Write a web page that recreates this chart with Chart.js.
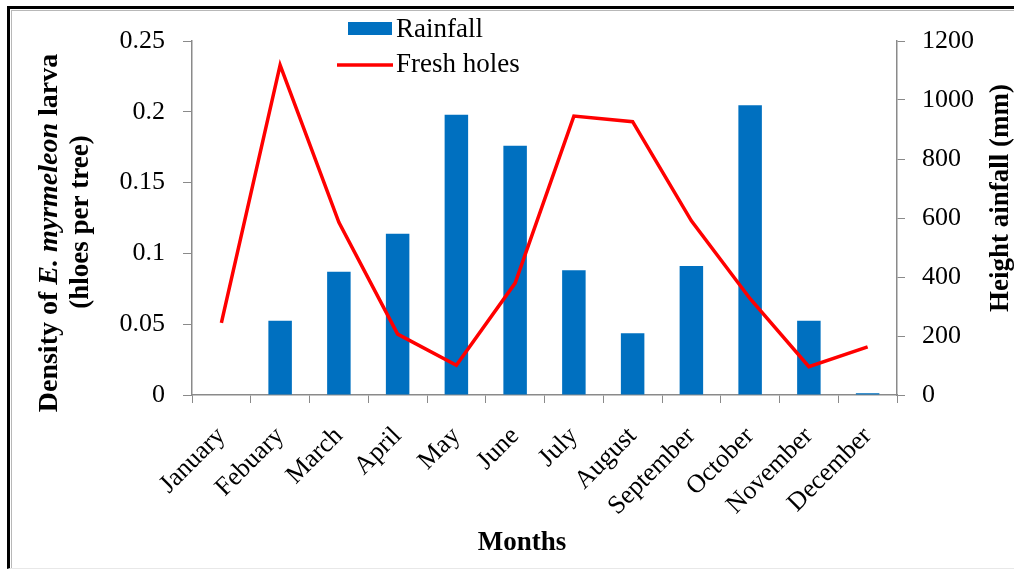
<!DOCTYPE html>
<html>
<head>
<meta charset="utf-8">
<script src="https://cdn.jsdelivr.net/npm/chart.js@4"></script>
<style>
    body { margin: 0; background: #fff; }
    #wrap { position: relative; width: 1014px; height: 571px; overflow: hidden; }
    .frame { position: absolute; left: 7px; top: 6px; right: -5px; bottom: 2px;
             border-top: 3px solid #000; border-left: 3px solid #000; border-bottom: 1px solid #e8e8e8; }
    .frame2 { position: absolute; left: 11px; top: 10px; right: -5px; bottom: 3px;
              border-top: 1px solid #b8b8b8; border-left: 1px solid #b8b8b8; }
    canvas { position: absolute; left: 0; top: 0; }
</style>
</head>
<body>
<div id="wrap">
    <div class="frame"></div>
    <div class="frame2"></div>
    <canvas id="myChart" width="1014" height="571"></canvas>
</div>
<script>
const months = ['January', 'Febuary', 'March', 'April', 'May', 'June', 'July',
    'August', 'September', 'October', 'November', 'December'];
// Rainfall (mm) - right axis
const rainfall = [0, 252, 418, 547, 950, 845, 423, 209, 437, 982, 252, 6];
// Fresh holes density - left axis
const freshHoles = [0.051, 0.233, 0.122, 0.043, 0.021, 0.079, 0.197, 0.193, 0.123, 0.068, 0.020, 0.034];

const leftTicks = [0, 0.05, 0.1, 0.15, 0.2, 0.25];
const rightTicks = [0, 200, 400, 600, 800, 1000, 1200];

const serif = '"Liberation Serif", "Times New Roman", serif';
const axisGray = '#8a8a8a';

document.addEventListener('DOMContentLoaded', () => {
    const ctxCanvas = document.getElementById('myChart');

    // titles and legend drawn on the canvas
    const decorations = {
        id: 'decorations',
        afterDraw(chart) {
            const ctx = chart.ctx;
            ctx.save();
            ctx.fillStyle = '#000';
            ctx.textBaseline = 'middle';

            // left title, line 1 with italic part
            const parts = [
                { t: 'Density of ', f: 'bold 28px ' + serif },
                { t: 'E. myrmeleon', f: 'italic bold 28px ' + serif },
                { t: ' larva', f: 'bold 28px ' + serif }
            ];
            let total = 0;
            parts.forEach(p => { ctx.font = p.f; total += ctx.measureText(p.t).width; });
            ctx.save();
            ctx.translate(50, 233);
            ctx.rotate(-Math.PI / 2);
            let x = -total / 2;
            ctx.textAlign = 'left';
            parts.forEach(p => {
                ctx.font = p.f;
                ctx.fillText(p.t, x, 0);
                x += ctx.measureText(p.t).width;
            });
            ctx.restore();

            ctx.save();
            ctx.translate(81, 222);
            ctx.rotate(-Math.PI / 2);
            ctx.textAlign = 'center';
            ctx.font = 'bold 27px ' + serif;
            ctx.fillText('(hloes per tree)', 0, 0);
            ctx.restore();

            // right title
            ctx.save();
            ctx.translate(1001, 198);
            ctx.rotate(-Math.PI / 2);
            ctx.textAlign = 'center';
            ctx.font = 'bold 27px ' + serif;
            ctx.fillText('Height ainfall (mm)', 0, 0);
            ctx.restore();

            // x title
            ctx.textAlign = 'center';
            ctx.font = 'bold 27px ' + serif;
            ctx.fillText('Months', 522, 543);

            // legend
            const bars = chart.data.datasets.find(d => d.type === 'bar');
            const line = chart.data.datasets.find(d => d.type === 'line');
            ctx.fillStyle = bars.backgroundColor;
            ctx.fillRect(348, 22, 44, 13);
            ctx.strokeStyle = line.borderColor;
            ctx.lineWidth = 3.5;
            ctx.beginPath();
            ctx.moveTo(337, 65);
            ctx.lineTo(393, 65);
            ctx.stroke();
            ctx.fillStyle = '#000';
            ctx.textAlign = 'left';
            ctx.font = '27px ' + serif;
            ctx.fillText(bars.label, 396, 30);
            ctx.fillText(line.label, 396, 65);
            ctx.restore();
        }
    };

    new Chart(ctxCanvas, {
        data: {
            labels: months,
            datasets: [
                {
                    type: 'line',
                    label: 'Fresh holes',
                    data: freshHoles,
                    yAxisID: 'y',
                    borderColor: '#ff0000',
                    borderWidth: 3.5,
                    pointRadius: 0,
                    tension: 0,
                    fill: false,
                    order: 0
                },
                {
                    type: 'bar',
                    label: 'Rainfall',
                    data: rainfall,
                    yAxisID: 'y1',
                    backgroundColor: '#0070c0',
                    barPercentage: 0.4,
                    categoryPercentage: 1,
                    order: 1
                }
            ]
        },
        options: {
            responsive: false,
            animation: false,
            layout: { padding: { top: 41, left: 0, right: 0, bottom: 0 } },
            plugins: {
                legend: { display: false },
                tooltip: { enabled: false }
            },
            scales: {
                x: {
                    offset: true,
                    grid: { display: true, offset: true, drawOnChartArea: false, tickLength: 8, color: axisGray },
                    border: { color: axisGray, width: 1.5 },
                    ticks: {
                        color: '#000',
                        font: { family: serif, size: 26 },
                        maxRotation: 45,
                        minRotation: 45,
                        padding: 18
                    },
                    afterFit: scale => { scale.height = 176; }
                },
                y: {
                    position: 'left',
                    min: 0,
                    max: 0.25,
                    afterBuildTicks: scale => { scale.ticks = leftTicks.map(v => ({ value: v })); },
                    grid: { display: true, drawOnChartArea: false, tickLength: 9, color: axisGray },
                    border: { color: axisGray, width: 1.5 },
                    ticks: {
                        color: '#000',
                        font: { family: serif, size: 26 },
                        padding: 18,
                        callback: v => String(v)
                    },
                    afterFit: scale => { scale.width = 192; }
                },
                y1: {
                    position: 'right',
                    min: 0,
                    max: 1200,
                    afterBuildTicks: scale => { scale.ticks = rightTicks.map(v => ({ value: v })); },
                    grid: { display: true, drawOnChartArea: false, tickLength: 8, color: axisGray },
                    border: { color: axisGray, width: 1.5 },
                    ticks: {
                        color: '#000',
                        font: { family: serif, size: 26 },
                        padding: 17,
                        callback: v => String(v)
                    },
                    afterFit: scale => { scale.width = 117; }
                }
            }
        },
        plugins: [decorations]
    });
});
</script>
</body>
</html>
